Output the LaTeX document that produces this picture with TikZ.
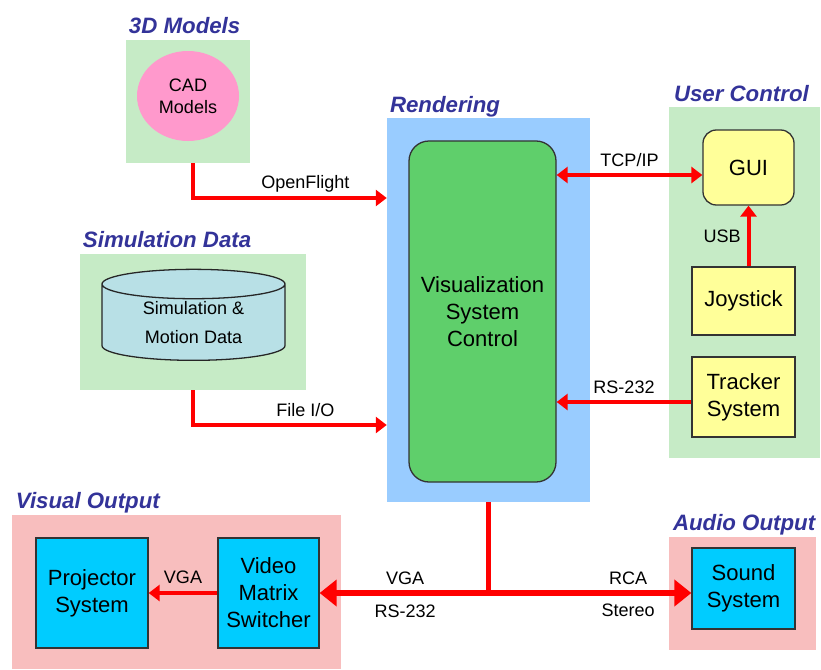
\documentclass[tikz,border=0pt]{standalone}
\usepackage{fontspec}
\setmainfont{Liberation Sans}
\usetikzlibrary{arrows.meta,shapes.geometric}

\definecolor{grpgreen}{HTML}{C6EBC6}
\definecolor{grpblue}{HTML}{99CCFF}
\definecolor{grppink}{HTML}{F8BEBE}
\definecolor{ctrlgreen}{HTML}{5FCF6B}
\definecolor{boxyellow}{HTML}{FFFF99}
\definecolor{boxcyan}{HTML}{00CCFF}
\definecolor{cadpink}{HTML}{FF99CC}
\definecolor{diskblue}{HTML}{B8E0E6}
\definecolor{titleblue}{HTML}{333399}
\definecolor{linkred}{HTML}{FF0000}

\newcommand{\boxfont}{\fontsize{18.8}{23}\selectfont}
\newcommand{\labfont}{\fontsize{15.4}{19}\selectfont}

\begin{document}
\begin{tikzpicture}
        [x=0.03cm,y=-0.03cm,
         grp/.style={fill=#1,draw=none,inner sep=0pt},
         title/.style={text=titleblue,anchor=base west,inner sep=0pt,
           font=\fontsize{19}{22}\selectfont\bfseries\itshape},
         unit/.style={fill=#1,draw=black!80,line width=1.1pt,inner sep=0pt,
           align=center,font=\boxfont},
         lab/.style={font=\labfont,inner sep=0pt,anchor=base},
         link/.style={draw=linkred,line width=3.4pt,
           -{Triangle[length=0.33cm,width=0.48cm]}},
         dlink/.style={draw=linkred,line width=3.4pt,
           {Triangle[length=0.33cm,width=0.48cm]}-{Triangle[length=0.33cm,width=0.48cm]}},
         bus/.style={draw=linkred,line width=5.1pt},
         dbus/.style={draw=linkred,line width=5.1pt,
           {Triangle[length=0.51cm,width=0.78cm]}-{Triangle[length=0.51cm,width=0.78cm]}}]
        \useasboundingbox (0,0) rectangle (821,669);

        % groups
        \node[grp=grpgreen,minimum width=3.72cm,minimum height=3.69cm] (models) at (188,101.5) {};
        \node[grp=grpgreen,minimum width=6.78cm,minimum height=4.08cm] (sim) at (193,322) {};
        \node[grp=grpblue,minimum width=6.09cm,minimum height=11.52cm] (render) at (488.5,310) {};
        \node[grp=grpgreen,minimum width=4.53cm,minimum height=10.53cm] (user) at (744.5,282.5) {};
        \node[grp=grppink,minimum width=9.87cm,minimum height=4.62cm] (visual) at (176.5,592) {};
        \node[grp=grppink,minimum width=4.41cm,minimum height=3.39cm] (audio) at (742.5,593.5) {};

        \node[title] (modelstitle) at ([xshift=0.09cm,yshift=0.18cm]models.north west) {3D Models};
        \node[title] (simtitle) at ([xshift=0.09cm,yshift=0.18cm]sim.north west) {Simulation Data};
        \node[title] (rendertitle) at ([xshift=0.09cm,yshift=0.15cm]render.north west) {Rendering};
        \node[title] (usertitle) at ([xshift=0.15cm,yshift=0.15cm]user.north west) {User Control};
        \node[title] (visualtitle) at ([xshift=0.12cm,yshift=0.18cm]visual.north west) {Visual Output};
        \node[title] (audiotitle) at ([xshift=0.12cm,yshift=0.18cm]audio.north west) {Audio Output};

        % units
        \node[ellipse,fill=cadpink,minimum width=3.06cm,minimum height=2.7cm,inner sep=0pt,
          align=center,font=\labfont] (cad) at (188,96) {CAD\\Models};
        \node[cylinder,shape border rotate=90,aspect=0.29,draw=black!85,line width=1.1pt,
          fill=diskblue,minimum width=5.49cm,minimum height=2.73cm,inner sep=0pt,
          align=center,font=\fontsize{15.4}{24.7}\selectfont] (simdata) at (193.5,322.5)
          {Simulation \&\\Motion Data};
        \node[unit=ctrlgreen,rounded corners=0.6cm,minimum width=4.41cm,minimum height=10.23cm]
          (visctrl) at (482.5,311.5) {Visualization\\System\\Control};
        \node[unit=boxyellow,rounded corners=0.4cm,minimum width=2.73cm,minimum height=2.25cm]
          (gui) at (748.5,167.5) {GUI};
        \node[unit=boxyellow,minimum width=3.09cm,minimum height=2.04cm] (joystick) at (743.5,301) {Joystick};
        \node[unit=boxyellow,minimum width=3.09cm,minimum height=2.4cm] (tracker) at (743.5,397) {Tracker\\System};
        \node[unit=boxcyan,minimum width=3.36cm,minimum height=3.3cm] (projector) at (92,593) {Projector\\System};
        \node[unit=boxcyan,minimum width=3.03cm,minimum height=3.3cm] (switcher) at (268.5,593) {Video\\Matrix\\Switcher};
        \node[unit=boxcyan,minimum width=3.09cm,minimum height=2.43cm] (sound) at (743.5,588.5) {Sound\\System};

        % connections
        \coordinate (flightin) at (render.west |- 0,198);
        \coordinate (filein) at (render.west |- 0,425);
        \coordinate (tcpend) at ([yshift=-0.225cm]gui.west);
        \coordinate (rsstart) at ([yshift=-0.15cm]tracker.west);
        \coordinate (busjoin) at (render.south |- switcher.east);

        \draw[link] ([xshift=0.15cm]models.south) |- (flightin)
          node[lab,pos=0.79,yshift=8pt] {OpenFlight};
        \draw[link] (sim.south) |- (filein)
          node[lab,pos=0.79,yshift=7pt] {File I/O};
        \draw[dlink] (visctrl.east |- tcpend) -- (tcpend)
          node[lab,midway,yshift=7pt] {TCP/IP};
        \draw[link] (rsstart) -- (visctrl.east |- rsstart)
          node[lab,midway,yshift=7.5pt] {RS-232};
        \draw[link] (joystick.north -| gui.south) -- (gui.south)
          node[font=\labfont,inner sep=0pt,midway,left=5pt] {USB};
        \draw[link] (switcher.west) -- (projector.east)
          node[lab,midway,yshift=8pt] {VGA};

        \draw[bus] (render.south) -- (busjoin);
        \draw[dbus] (switcher.east) -- (sound.west |- busjoin)
          node[lab,pos=0.23,yshift=7pt] {VGA}
          node[lab,pos=0.23,yshift=-21pt] {RS-232}
          node[lab,pos=0.83,yshift=7pt] {RCA}
          node[lab,pos=0.83,yshift=-20pt] {Stereo};
      \end{tikzpicture}
\end{document}
